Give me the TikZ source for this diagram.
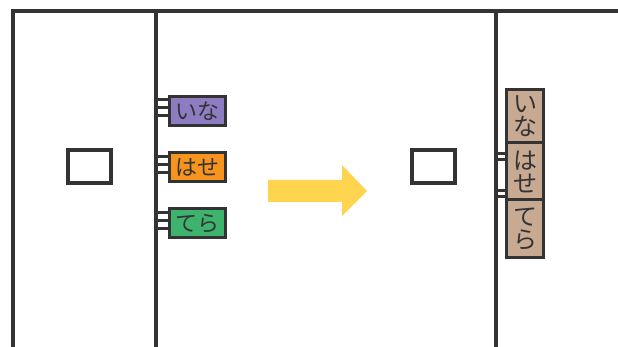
\documentclass[tikz,border=0pt]{standalone}
\usepackage{fontspec}
\newfontfamily\jp{Noto Sans CJK JP}
\definecolor{ink}{HTML}{333333}
\definecolor{lpurple}{HTML}{8E7CC3}
\definecolor{lorange}{HTML}{F7941D}
\definecolor{lgreen}{HTML}{3DB36E}
\definecolor{ltan}{HTML}{C8A992}
\definecolor{arrowy}{HTML}{FFD54F}
\begin{document}
\begin{tikzpicture}[x=1pt,y=-1pt,
  wall/.style={draw=ink,line width=4pt},
  sq/.style={draw=ink,line width=4pt,fill=white,minimum width=43pt,minimum height=33pt,inner sep=0pt},
  tag/.style={draw=ink,line width=3pt,minimum width=56pt,minimum height=29pt,inner sep=0pt,font=\jp\fontsize{22}{22}\selectfont,text=ink},
  cell/.style={draw=ink,line width=3pt,fill=ltan,minimum width=37pt,inner sep=0pt,font=\jp\fontsize{24}{24}\selectfont,text=ink,align=center},
  comb/.style={draw=ink,line width=3pt}]
\useasboundingbox (0,0) rectangle (618,347);
% frame
\draw[wall,line join=miter] (13,347) -- (13,11) -- (618,11);
\draw[wall] (156,11) -- (156,347);
\draw[wall] (495.5,11) -- (495.5,347);
% squares
\node[sq] (sqL) at (89.5,166.5) {};
\node[sq] (sqR) at (433,167) {};
% left tags
\node[tag,fill=lpurple] (ina) at (197.5,111) {いな};
\node[tag,fill=lorange] (hase) at (197.5,167.5) {はせ};
\node[tag,fill=lgreen] (tera) at (197.5,223.5) {てら};
\foreach \t in {ina,hase,tera}{
  \foreach \d in {-11,-3,5}{
    \draw[comb] ([yshift=-\d pt]\t.west) -- ++(-12,0);
  }
}
% arrow
\fill[arrowy] (268,180) -- (342,180) -- (342,165) -- (367,191) -- (342,216) -- (342,202) -- (268,202) -- cycle;
% right stacked box
\node[cell,minimum height=53pt] (rina) at (525,116.5) {い\\[-1pt]な};
\node[cell,minimum height=57pt] (rhase) at (525,171.5) {は\\[-1pt]せ};
\node[cell,minimum height=58pt] (rtera) at (525,229) {て\\[-1pt]ら};
\foreach \y in {153.5,159.5,191,196.5}{
  \draw[comb] (497,\y) -- (507,\y);
}
\end{tikzpicture}
\end{document}
